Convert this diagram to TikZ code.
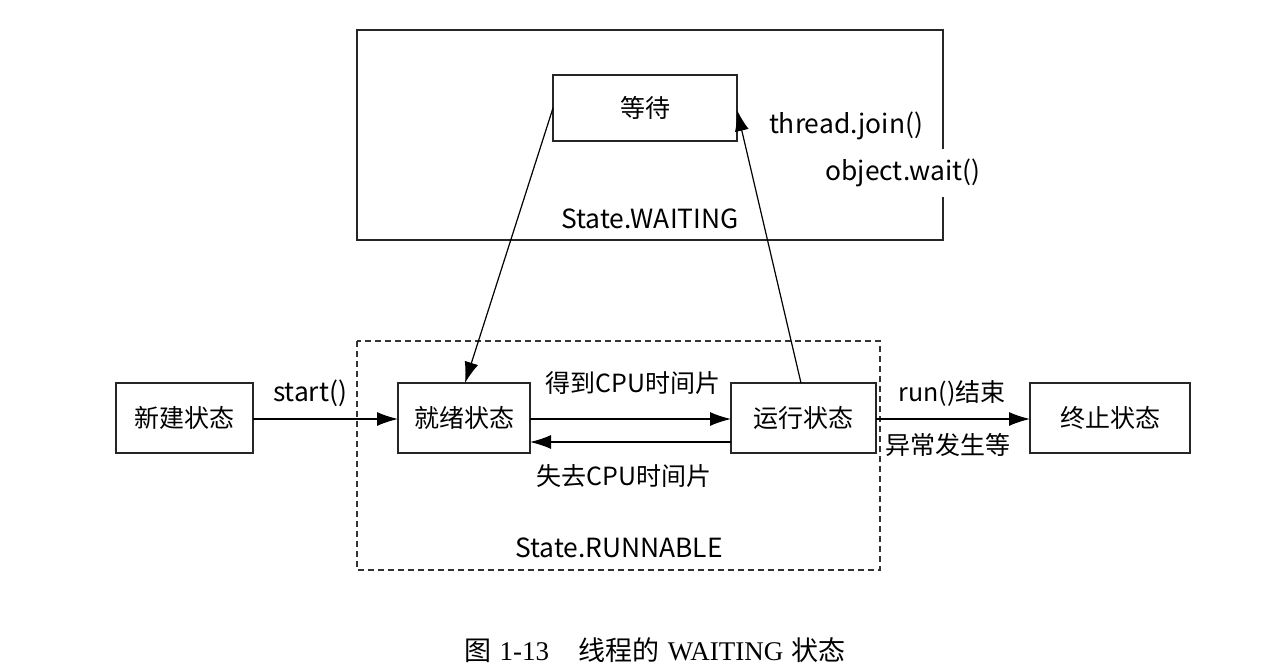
\documentclass[tikz,border=0pt]{standalone}
\usepackage{fontspec}
\setmainfont{Noto Sans CJK SC}
\newfontfamily\capserif{Liberation Serif}
\newfontfamily\capcjk{Noto Sans CJK SC}
\usetikzlibrary{arrows.meta}
\begin{document}
\begin{tikzpicture}[x=0.5pt,y=-0.5pt,
  box/.style={draw=black!85,line width=0.6pt,inner sep=0pt},
  frame/.style={draw=black!85,line width=0.6pt},
  dframe/.style={draw=black!80,line width=0.6pt,dash pattern=on 3pt off 2pt},
  conn/.style={line width=0.6pt,-{Latex[length=10.5pt,width=7pt]}},
  lbl/.style={font=\fontsize{12.5pt}{14pt}\selectfont,inner sep=0pt},
  llbl/.style={font=\fontsize{13.2pt}{15pt}\selectfont,inner sep=0pt},
  btxt/.style={font=\fontsize{12.5pt}{14pt}\selectfont}]
\useasboundingbox (0,0) rectangle (1286,671);
% frames
\draw[frame] (357,30) rectangle (943,240);
\draw[dframe] (357,341) rectangle (880,570);
% boxes
\draw[box] (553,75) rectangle (737,141); \node[btxt] (wait) at (645,108) {等待};
\coordinate (waitL) at (553,108);
\coordinate (waitR) at (737,110);
\draw[box] (116,383) rectangle (253,453); \node[btxt] (new) at (184.5,418) {新建状态};
\draw[box] (398,383) rectangle (530,453); \node[btxt] (ready) at (464,418) {就绪状态};
\draw[box] (731,383) rectangle (876,453); \node[btxt] (run) at (803.5,418) {运行状态};
\draw[box] (1030,383) rectangle (1190,453); \node[btxt] (term) at (1110,418) {终止状态};
% anchor coordinates
\coordinate (newR) at (253,419);
\coordinate (readyL) at (398,419);
\coordinate (readyR1) at (530,419);
\coordinate (readyR2) at (530,442);
\coordinate (readyT) at (465,383);
\coordinate (runL1) at (731,419);
\coordinate (runL2) at (731,442);
\coordinate (runR) at (876,419);
\coordinate (runT) at (801,383);
\coordinate (termL) at (1030,419);
% connectors
\draw[conn] (newR) -- (readyL);
\draw[conn] (readyR1) -- (runL1);
\draw[conn] (runL2) -- (readyR2);
\draw[conn] (runR) -- (termL);
\draw[conn] (waitL) -- (readyT);
\draw[conn] (runT) -- (waitR);
% labels
\node[llbl] (l1) at (310,393) {start()};
\node[lbl] (l2) at (633,383) {得到CPU时间片};
\node[lbl] (l3) at (624,476) {失去CPU时间片};
\node[lbl] (l4) at (952,393) {run()结束};
\node[lbl] (l5) at (948,445) {异常发生等};
\node[llbl] (l6) at (846,126) {thread.join()};
\node[llbl,fill=white,inner ysep=5pt,inner xsep=1pt] (l7) at (903,173) {object.wait()};
\node[llbl] (l8) at (650,219) {State.WAITING};
\node[llbl] (l9) at (619,548) {State.RUNNABLE};
% caption
\node[inner sep=0pt,font=\fontsize{13.5pt}{15pt}\selectfont] (cap) at (655,650) {\capcjk 图\hspace{0.3em}\capserif 1-13\capcjk\hspace{1.1em}线程的\hspace{0.3em}\capserif WAITING\capcjk\hspace{0.3em}状态};
\end{tikzpicture}
\end{document}
